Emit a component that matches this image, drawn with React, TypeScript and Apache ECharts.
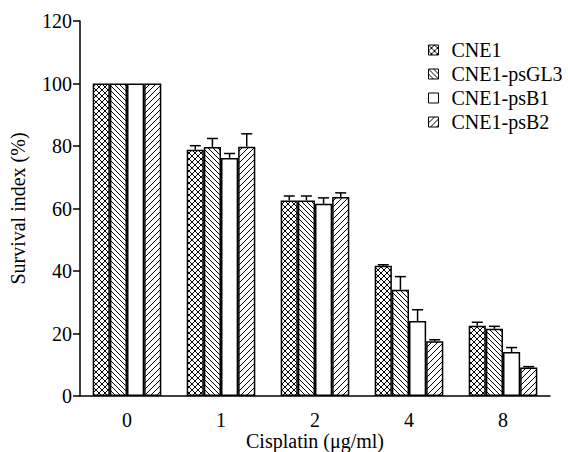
import React, { useEffect, useRef } from "react";
import * as echarts from "echarts";

const categories = ["0", "1", "2", "4", "8"];
const seriesNames = ["CNE1", "CNE1-psGL3", "CNE1-psB1", "CNE1-psB2"];
const cne1 = [100, 78.8, 62.6, 41.7, 22.5];
const cne1Err = [0, 1.3, 1.4, 0.3, 1.1];
const psGL3 = [100, 79.7, 62.6, 34.0, 21.5];
const psGL3Err = [0, 2.7, 1.4, 4.2, 0.8];
const psB1 = [100, 76.2, 61.5, 24.0, 14.1];
const psB1Err = [0, 1.4, 1.9, 3.6, 1.4];
const psB2 = [100, 79.8, 63.7, 17.5, 9.1];
const psB2Err = [0, 4.1, 1.3, 0.5, 0.3];
const yTicks = [0, 20, 40, 60, 80, 100, 120];

const GROUP_FRACTION = 0.73;
const FONT = '"Liberation Serif", "Times New Roman", serif';

function makePattern(kind: string, size: number) {
  const c = document.createElement("canvas");
  c.width = size;
  c.height = size;
  const ctx = c.getContext("2d")!;
  ctx.fillStyle = "#fff";
  ctx.fillRect(0, 0, size, size);
  ctx.strokeStyle = "#000";
  ctx.lineWidth = 1;
  const fwd = () => {
    for (const o of [-size, 0, size]) {
      ctx.beginPath();
      ctx.moveTo(o, size);
      ctx.lineTo(o + size, 0);
      ctx.stroke();
    }
  };
  const back = () => {
    for (const o of [-size, 0, size]) {
      ctx.beginPath();
      ctx.moveTo(o, 0);
      ctx.lineTo(o + size, size);
      ctx.stroke();
    }
  };
  if (kind === "cross") {
    fwd();
    back();
  } else if (kind === "back") back();
  else if (kind === "fwd") fwd();
  return { image: c, repeat: "repeat" } as any;
}

export default function App() {
  const ref = useRef<HTMLDivElement>(null);
  useEffect(() => {
    if (!ref.current) return;
    const chart = echarts.init(ref.current, null, { renderer: "svg" });
    const values = [cne1, psGL3, psB1, psB2];
    const errs = [cne1Err, psGL3Err, psB1Err, psB2Err];
    const fills = [
      makePattern("cross", 6),
      makePattern("back", 5),
      "#ffffff",
      makePattern("fwd", 6),
    ];
    const errData: any[] = [];
    values.forEach((arr, s) => {
      arr.forEach((v, i) => {
        if (errs[s][i] > 0) errData.push([i, v, errs[s][i], s]);
      });
    });

    const barSeries = values.map((arr, s) => ({
      name: seriesNames[s],
      type: "bar",
      data: arr,
      barGap: "0%",
      barCategoryGap: `${Math.round((1 - GROUP_FRACTION) * 100)}%`,
      itemStyle: { color: fills[s], borderColor: "#000", borderWidth: 1.5 },
      z: 2,
    }));

    const errSeries = {
      type: "custom",
      data: errData,
      z: 5,
      silent: true,
      renderItem: (params: any, api: any) => {
        const cat = api.value(0);
        const v = api.value(1);
        const e = api.value(2);
        const s = api.value(3);
        const base = api.coord([cat, v]);
        const top = api.coord([cat, v + e]);
        const band = api.size([1, 0])[0];
        const bw = (band * GROUP_FRACTION) / 4;
        const x = base[0] - 2 * bw + (s + 0.5) * bw;
        const half = bw * 0.32;
        const st = { stroke: "#000", lineWidth: 1.5 };
        return {
          type: "group",
          children: [
            { type: "line", shape: { x1: x, y1: base[1], x2: x, y2: top[1] }, style: st },
            { type: "line", shape: { x1: x - half, y1: top[1], x2: x + half, y2: top[1] }, style: st },
          ],
        };
      },
    };

    chart.setOption({
      animation: false,
      backgroundColor: "#fff",
      textStyle: { fontFamily: FONT },
      grid: {
        left: 80,
        right: 18,
        top: 21,
        bottom: 56,
        containLabel: false,
        outerBoundsMode: "none",
      },
      legend: {
        orient: "vertical",
        left: 423,
        top: 35,
        itemWidth: 10,
        itemHeight: 10,
        itemGap: 4,
        icon: "rect",
        data: seriesNames,
        textStyle: { fontFamily: FONT, fontSize: 20, color: "#000", padding: [0, 0, 0, 8] },
        itemStyle: { borderColor: "#000", borderWidth: 1 },
      },
      xAxis: {
        type: "category",
        data: categories,
        name: "Cisplatin (μg/ml)",
        nameLocation: "middle",
        nameGap: 35,
        nameMoveOverlap: false,
        nameTextStyle: { fontFamily: FONT, fontSize: 20, color: "#000" },
        axisLine: { lineStyle: { color: "#000", width: 1.5 } },
        axisTick: { inside: true, length: 6, lineStyle: { color: "#000", width: 1.5 } },
        axisLabel: { fontFamily: FONT, fontSize: 20, color: "#000", margin: 14 },
      },
      yAxis: {
        type: "value",
        min: yTicks[0],
        max: yTicks[yTicks.length - 1],
        interval: 20,
        name: "Survival index (%)",
        nameLocation: "middle",
        nameGap: 52,
        nameMoveOverlap: false,
        nameTextStyle: { fontFamily: FONT, fontSize: 20, color: "#000" },
        axisLine: { show: true, lineStyle: { color: "#000", width: 1.5 } },
        axisTick: { show: true, length: 7, lineStyle: { color: "#000", width: 1.5 } },
        axisLabel: { fontFamily: FONT, fontSize: 20, color: "#000", margin: 8 },
        splitLine: { show: false },
      },
      series: [...barSeries, errSeries],
    });
    return () => chart.dispose();
  }, []);
  return <div ref={ref} style={{ width: 568, height: 452, position: "absolute", left: 0, top: 0 }} />;
}
